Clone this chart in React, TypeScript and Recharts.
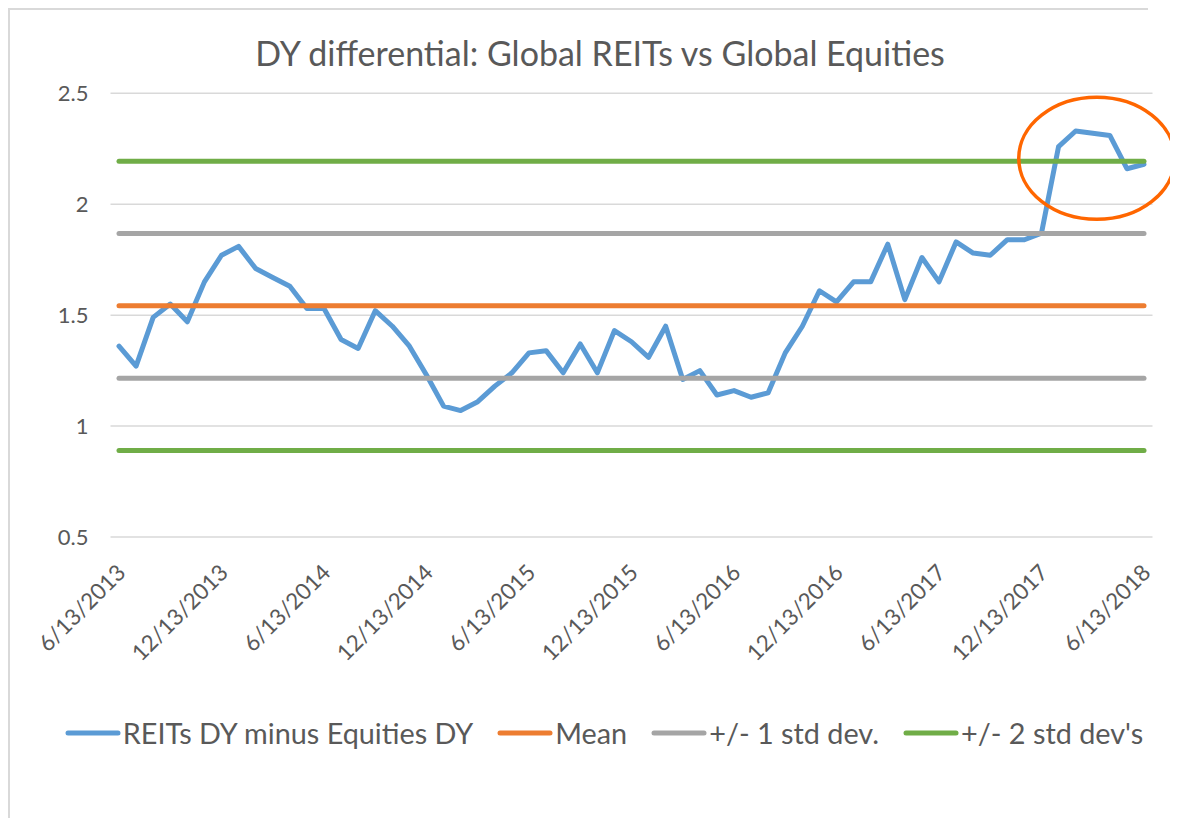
import React from "react";
import { LineChart, Line, XAxis, YAxis, CartesianGrid, Legend, ReferenceDot } from "recharts";

const dates = [
  "6/13/2013", "7/13/2013", "8/13/2013", "9/13/2013", "10/13/2013", "11/13/2013",
  "12/13/2013", "1/13/2014", "2/13/2014", "3/13/2014", "4/13/2014", "5/13/2014",
  "6/13/2014", "7/13/2014", "8/13/2014", "9/13/2014", "10/13/2014", "11/13/2014",
  "12/13/2014", "1/13/2015", "2/13/2015", "3/13/2015", "4/13/2015", "5/13/2015",
  "6/13/2015", "7/13/2015", "8/13/2015", "9/13/2015", "10/13/2015", "11/13/2015",
  "12/13/2015", "1/13/2016", "2/13/2016", "3/13/2016", "4/13/2016", "5/13/2016",
  "6/13/2016", "7/13/2016", "8/13/2016", "9/13/2016", "10/13/2016", "11/13/2016",
  "12/13/2016", "1/13/2017", "2/13/2017", "3/13/2017", "4/13/2017", "5/13/2017",
  "6/13/2017", "7/13/2017", "8/13/2017", "9/13/2017", "10/13/2017", "11/13/2017",
  "12/13/2017", "1/13/2018", "2/13/2018", "3/13/2018", "4/13/2018", "5/13/2018",
  "6/13/2018",
];

const dyDifferential = [
  1.36, 1.27, 1.49, 1.55, 1.47, 1.65, 1.77, 1.81, 1.71, 1.67,
  1.63, 1.53, 1.53, 1.39, 1.35, 1.52, 1.45, 1.36, 1.23, 1.09,
  1.07, 1.11, 1.18, 1.24, 1.33, 1.34, 1.24, 1.37, 1.24, 1.43,
  1.38, 1.31, 1.45, 1.21, 1.25, 1.14, 1.16, 1.13, 1.15, 1.33,
  1.45, 1.61, 1.56, 1.65, 1.65, 1.82, 1.57, 1.76, 1.65, 1.83,
  1.78, 1.77, 1.84, 1.84, 1.87, 2.26, 2.33, 2.32, 2.31, 2.16, 2.18,
];

const MEAN = 1.542;
const SD1_UPPER = 1.868;
const SD1_LOWER = 1.216;
const SD2_UPPER = 2.194;
const SD2_LOWER = 0.89;

const yTicks = [0.5, 1, 1.5, 2, 2.5];

const highlightDate = "3/13/2018";
const highlightValue = 2.207;

const legendItems = [
  { name: "REITs DY minus Equities DY", color: "#5B9BD5" },
  { name: "Mean", color: "#ED7D31" },
  { name: "+/- 1 std dev.", color: "#A5A5A5" },
  { name: "+/- 2 std dev's", color: "#70AD47" },
];

const data = dates.map((d, i) => ({
  date: d,
  diff: dyDifferential[i],
  mean: MEAN,
  sd1Up: SD1_UPPER,
  sd1Low: SD1_LOWER,
  sd2Up: SD2_UPPER,
  sd2Low: SD2_LOWER,
}));

const FONT = "Lato, 'Open Sans', sans-serif";
const TEXT = "#595959";

const XTick = (props: any) => {
  const { x, y, payload } = props;
  const ax = x + 8;
  const ay = y + 37;
  return (
    <text
      x={ax}
      y={ay}
      transform={`rotate(-45 ${ax} ${ay})`}
      textAnchor="end"
      fill={TEXT}
      fontSize={22.5}
      fontFamily={FONT}
    >
      {payload.value}
    </text>
  );
};

const LegendContent = () => (
  <div
    style={{
      height: 40,
      display: "flex",
      justifyContent: "center",
      alignItems: "center",
      paddingLeft: 22,
      boxSizing: "border-box",
      fontFamily: FONT,
      fontSize: 28.8,
      color: TEXT,
    }}
  >
    {legendItems.map((it) => (
      <div key={it.name} style={{ display: "flex", alignItems: "center", margin: "0 12px" }}>
        <svg width={56} height={10} style={{ marginRight: 2 }}>
          <line x1={3} y1={5} x2={53} y2={5} stroke={it.color} strokeWidth={5} strokeLinecap="round" />
        </svg>
        <span style={{ whiteSpace: "nowrap" }}>{it.name}</span>
      </div>
    ))}
  </div>
);

const Ellipse = (props: any) => {
  const { cx, cy } = props;
  if (cx == null || cy == null) return null;
  return <ellipse cx={cx + 4} cy={cy} rx={78} ry={61} fill="none" stroke="#FF6600" strokeWidth={3.5} />;
};

export default function App() {
  return (
    <div
      style={{
        position: "relative",
        width: 1100,
        height: 810,
        boxSizing: "border-box",
        borderLeft: "2px solid #D9D9D9",
      }}
    >
      <div
        style={{
          position: "absolute",
          left: -2,
          top: 0,
          width: 1140,
          height: 2,
          background: "#D9D9D9",
        }}
      />
      <div
        style={{
          position: "absolute",
          left: 90,
          width: 1000,
          top: 27,
          textAlign: "center",
          fontFamily: FONT,
          fontSize: 34,
          lineHeight: "36px",
          color: TEXT,
          zIndex: 2,
        }}
      >
        DY differential: Global REITs vs Global Equities
      </div>
      <div style={{ position: "absolute", left: 0, top: 2 }}>
        <LineChart
          width={1166}
          height={808}
          data={data}
          margin={{ top: 83.3, right: 23.5, bottom: 65, left: 0 }}
        >
          <CartesianGrid vertical={false} stroke="#D9D9D9" strokeWidth={1.5} />
          <XAxis
            dataKey="date"
            interval={5}
            tickLine={false}
            axisLine={false}
            tickSize={0}
            tickMargin={0}
            padding={{ left: 8.5, right: 8.5 }}
            height={176}
            tick={<XTick />}
          />
          <YAxis
            domain={[0.5, 2.5]}
            ticks={yTicks}
            width={100.5}
            tickLine={false}
            axisLine={false}
            tickSize={0}
            tickMargin={22}
            tick={{ fill: TEXT, fontSize: 22, fontFamily: FONT }}
          />
          <Legend verticalAlign="bottom" wrapperStyle={{ left: 0, width: 1166 }} content={<LegendContent />} />
          <Line dataKey="diff" name="REITs DY minus Equities DY" stroke="#5B9BD5" strokeWidth={5} dot={false} strokeLinecap="round" strokeLinejoin="round" isAnimationActive={false} />
          <Line dataKey="mean" name="Mean" stroke="#ED7D31" strokeWidth={5} dot={false} strokeLinecap="round" isAnimationActive={false} />
          <Line dataKey="sd1Up" name="+/- 1 std dev." stroke="#A5A5A5" strokeWidth={5} dot={false} strokeLinecap="round" isAnimationActive={false} />
          <Line dataKey="sd1Low" name="+/- 1 std dev. (lower)" stroke="#A5A5A5" strokeWidth={5} dot={false} strokeLinecap="round" isAnimationActive={false} />
          <Line dataKey="sd2Up" name="+/- 2 std dev's" stroke="#70AD47" strokeWidth={5} dot={false} strokeLinecap="round" isAnimationActive={false} />
          <Line dataKey="sd2Low" name="+/- 2 std dev's (lower)" stroke="#70AD47" strokeWidth={5} dot={false} strokeLinecap="round" isAnimationActive={false} />
          <ReferenceDot x={highlightDate} y={highlightValue} r={0} shape={<Ellipse />} ifOverflow="visible" />
        </LineChart>
      </div>
    </div>
  );
}
